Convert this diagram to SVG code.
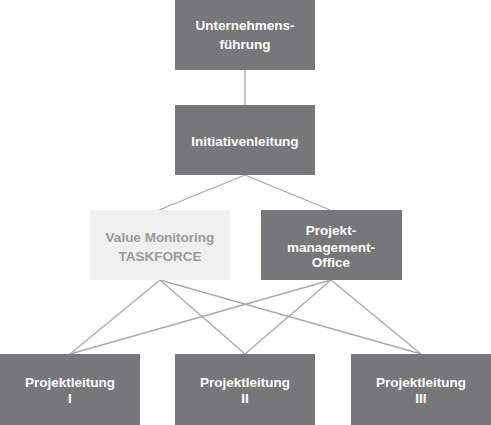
<svg xmlns="http://www.w3.org/2000/svg" width="491" height="425" viewBox="0 0 491 425">
<style>
.box{fill:#77777b}
.lbox{fill:#eeefee}
.t{font-family:"Liberation Sans",Arial,sans-serif;font-weight:bold;font-size:13.5px;fill:#ffffff;text-anchor:middle}
.lt{fill:#9a9a9a}
.c{stroke:#a9a9a9;stroke-width:1.3;fill:none}
</style>
<rect width="491" height="425" fill="#ffffff"/>
<g id="connectors">
<line class="c" x1="245" y1="70" x2="245" y2="105"/>
<line class="c" x1="245" y1="175" x2="159" y2="210"/>
<line class="c" x1="245" y1="175" x2="330" y2="210"/>
<line class="c" x1="160" y1="280" x2="70" y2="354"/>
<line class="c" x1="160" y1="280" x2="245" y2="354"/>
<line class="c" x1="160" y1="280" x2="421" y2="354"/>
<line class="c" x1="331" y1="280" x2="70" y2="354"/>
<line class="c" x1="331" y1="280" x2="245" y2="354"/>
<line class="c" x1="331" y1="280" x2="421" y2="354"/>
</g>
<g id="unternehmensfuehrung">
<rect class="box" x="175" y="0" width="140" height="70"/>
<text class="t" x="245" y="30">Unternehmens-</text>
<text class="t" x="245" y="49">führung</text>
</g>
<g id="initiativenleitung">
<rect class="box" x="175" y="105" width="140" height="70"/>
<text class="t" x="245" y="146">Initiativenleitung</text>
</g>
<g id="value-monitoring">
<rect class="lbox" x="90" y="210" width="140" height="70"/>
<text class="t lt" x="160" y="242">Value Monitoring</text>
<text class="t lt" x="160" y="261">TASKFORCE</text>
</g>
<g id="pmo">
<rect class="box" x="261" y="210" width="141" height="70"/>
<text class="t" x="331" y="235">Projekt-</text>
<text class="t" x="331" y="252">management-</text>
<text class="t" x="331" y="267">Office</text>
</g>
<g id="pl1">
<rect class="box" x="0" y="354" width="140" height="71"/>
<text class="t" x="70" y="387">Projektleitung</text>
<text class="t" x="70" y="403">I</text>
</g>
<g id="pl2">
<rect class="box" x="175" y="354" width="140" height="71"/>
<text class="t" x="245" y="387">Projektleitung</text>
<text class="t" x="245" y="403">II</text>
</g>
<g id="pl3">
<rect class="box" x="351" y="354" width="140" height="71"/>
<text class="t" x="421" y="387">Projektleitung</text>
<text class="t" x="421" y="403">III</text>
</g>
</svg>
